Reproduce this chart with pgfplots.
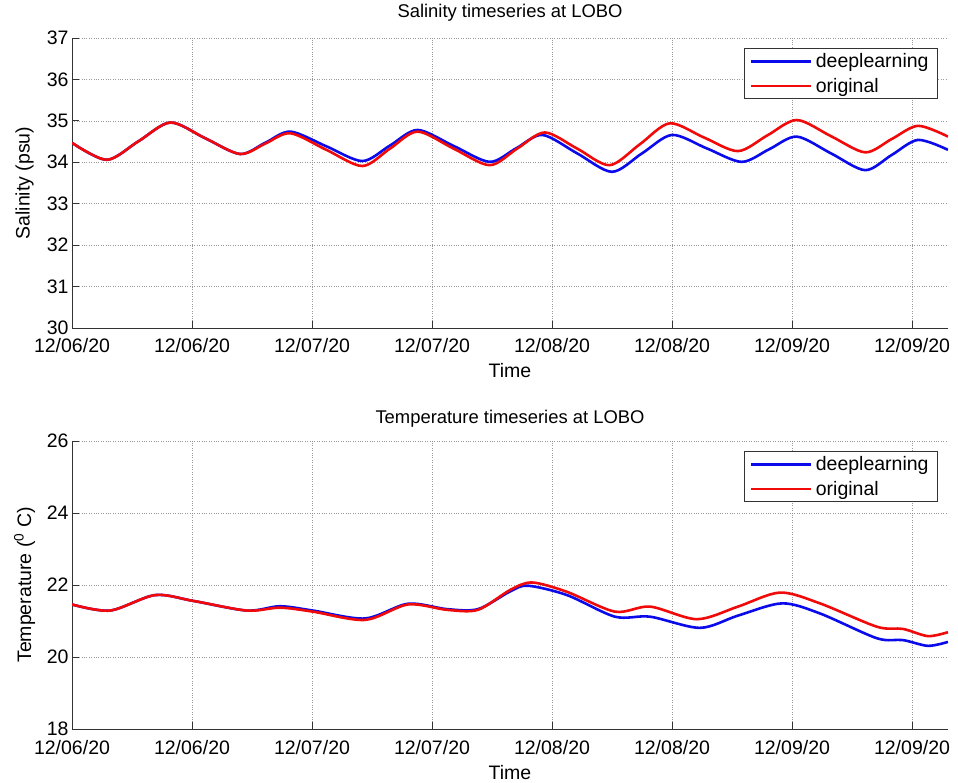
\documentclass[border=0pt]{standalone}
\usepackage{pgfplots}
\pgfplotsset{compat=1.18}
\usepackage{fontspec}
\setmainfont{Liberation Sans}
\definecolor{mblue}{RGB}{10,10,235}
\definecolor{mred}{RGB}{240,10,10}
\begin{document}
\begin{tikzpicture}[x=1pt,y=1pt]
\path[use as bounding box] (0,0) rectangle (958,782);
\pgfplotsset{
  myax/.style={
    scale only axis, width=876pt, xmin=0, xmax=7.3,
    xtick={0,...,7},
    xticklabels={12/06/20,12/06/20,12/07/20,12/07/20,12/08/20,12/08/20,12/09/20,12/09/20},
    axis x line*=bottom, axis y line*=left,
    axis line style={-, black!80, line width=0.8pt},
    tick align=inside, major tick length=7pt,
    tick style={black!80, line width=0.8pt},
    grid=major, major grid style={dotted, black!40, line width=0.6pt},
    /pgf/number format/assume math mode=true,
    ticklabel style={font=\fontsize{19.5}{21}\selectfont},
    xticklabel style={anchor=base, yshift=-25pt},
    xlabel={Time},
    xlabel style={at={(axis description cs:0.5,0)}, anchor=base, yshift=-50pt, font=\fontsize{19.5}{21}\selectfont},
    ylabel style={at={(axis description cs:-0.054,0.5)}, anchor=center, font=\fontsize{19.5}{21}\selectfont},
    title style={at={(axis description cs:0.5,1)}, anchor=base, font=\fontsize{18.4}{20}\selectfont},
    legend style={at={(axis description cs:1,1)}, anchor=north east, xshift=-10pt, yshift=-10pt,
      font=\fontsize{19.5}{21}\selectfont, draw=black!80, line width=0.8pt, inner xsep=5pt, inner ysep=3pt,
      row sep=5pt, nodes={inner ysep=2pt, inner xsep=4pt}, cells={anchor=west}},
    legend image code/.code={\draw[#1, line width=2.6pt] (0pt,0pt) -- (60pt,0pt);},
  }
}
\begin{axis}[myax, at={(72pt,454pt)}, anchor=south west, height=290pt,
  ymin=30, ymax=37, ytick={30,...,37},
  ylabel={Salinity (psu)}, title={Salinity timeseries at LOBO},
  title style={yshift=14pt}]
\addplot[mblue, line width=2.6pt, smooth] coordinates {
(0,34.47) (0.29,34.06) (0.555,34.51) (0.82,34.96) (1.11,34.58) (1.40,34.2)
(1.61,34.47) (1.82,34.74) (2.12,34.385) (2.42,34.03) (2.65,34.405) (2.88,34.78)
(3.18,34.395) (3.48,34.01) (3.70,34.335) (3.92,34.66) (4.21,34.215) (4.50,33.77)
(4.75,34.215) (5.0,34.66) (5.29,34.335) (5.58,34.01) (5.81,34.315) (6.04,34.62)
(6.325,34.215) (6.61,33.81) (6.83,34.175) (7.05,34.54) (7.3,34.30)
};
\addlegendentry{deeplearning}
\addplot[mred, line width=2.6pt, smooth] coordinates {
(0,34.47) (0.29,34.06) (0.555,34.51) (0.82,34.96) (1.11,34.58) (1.40,34.2)
(1.61,34.45) (1.82,34.70) (2.12,34.30) (2.42,33.91) (2.65,34.33) (2.88,34.74)
(3.18,34.33) (3.48,33.93) (3.71,34.33) (3.94,34.72) (4.21,34.33) (4.48,33.93)
(4.73,34.43) (4.98,34.94) (5.265,34.6) (5.55,34.27) (5.795,34.65) (6.04,35.02)
(6.325,34.63) (6.61,34.24) (6.83,34.56) (7.05,34.88) (7.3,34.62)
};
\addlegendentry{original}
\end{axis}
\begin{axis}[myax, at={(72pt,53pt)}, anchor=south west, height=288pt,
  ymin=18, ymax=26, ytick={18,20,...,26},
  ylabel={Temperature (\textsuperscript{0} C)}, title={Temperature timeseries at LOBO},
  title style={yshift=12pt}]
\addplot[mblue, line width=2.6pt, smooth] coordinates {
(0,21.46) (0.317,21.29) (0.692,21.72) (1.008,21.56) (1.458,21.29) (1.733,21.41)
(2.008,21.29) (2.442,21.07) (2.8,21.48) (3.125,21.33) (3.383,21.33) (3.65,21.82)
(3.8,21.98) (4.125,21.72) (4.525,21.12) (4.817,21.12) (5.233,20.81) (5.55,21.15)
(5.917,21.49) (6.233,21.21) (6.708,20.52) (6.925,20.47) (7.133,20.31) (7.3,20.42)
};
\addlegendentry{deeplearning}
\addplot[mred, line width=2.6pt, smooth] coordinates {
(0,21.46) (0.317,21.29) (0.692,21.72) (1.008,21.56) (1.458,21.29) (1.733,21.37)
(2.008,21.26) (2.442,21.03) (2.8,21.46) (3.125,21.31) (3.383,21.31) (3.65,21.86)
(3.833,22.07) (4.125,21.81) (4.525,21.26) (4.817,21.40) (5.208,21.05) (5.55,21.40)
(5.9,21.79) (6.233,21.49) (6.708,20.84) (6.925,20.78) (7.133,20.58) (7.3,20.69)
};
\addlegendentry{original}
\end{axis}
\end{tikzpicture}
\end{document}
